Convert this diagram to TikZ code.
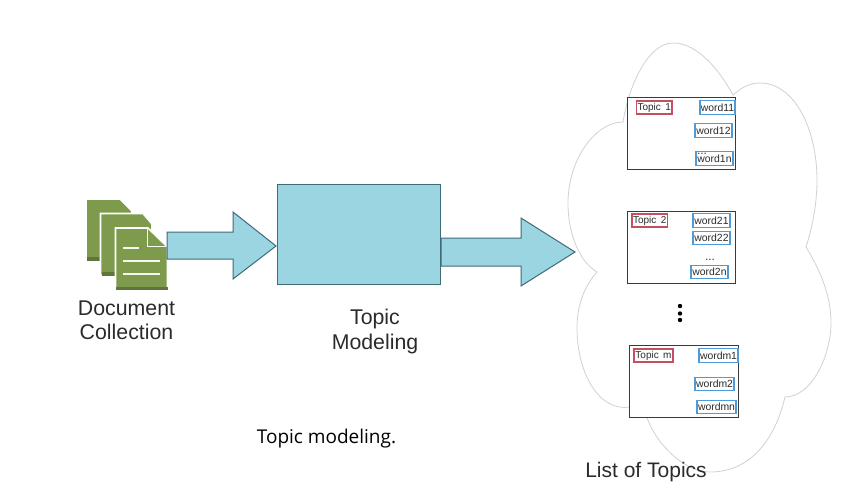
\documentclass[tikz,border=0pt]{standalone}
\usepackage{fontspec}
\setmainfont{Liberation Sans}
\newfontfamily\capfont{Open Sans}
\definecolor{cyanfill}{HTML}{9BD5E2}
\definecolor{cyanline}{HTML}{3F6B78}
\definecolor{docgreen}{HTML}{7E9A4C}
\definecolor{docdark}{HTML}{5F7539}
\definecolor{txtgray}{HTML}{2B2B2B}
\definecolor{cloudline}{HTML}{CFD2D3}
\definecolor{redbox}{HTML}{C4505F}
\definecolor{bluebox}{HTML}{4F9AD8}
\definecolor{boxline}{HTML}{3A3A3A}
\tikzset{
  block/.style={fill=cyanfill,draw=cyanline,line width=1pt,line join=miter},
  doc/.style={fill=docgreen,draw=white,line width=1.6pt},
  band/.style={fill=docdark,draw=none},
  docline/.style={draw=white!92!docgreen,line width=1.5pt},
  biglabel/.style={font=\fontsize{21.3}{25}\selectfont,text=txtgray,align=center,inner sep=0pt},
  card/.style={draw=boxline,fill=white,line width=1pt,inner sep=0pt},
  topicbox/.style={draw=redbox,line width=1.1pt,inner sep=0pt,minimum height=13pt,text=txtgray,font=\fontsize{10}{12}\selectfont},
  wordbox/.style={draw=bluebox,line width=1.1pt,inner sep=0pt,minimum height=13.5pt,text=txtgray,font=\fontsize{10.4}{12}\selectfont},
  dotdot/.style={fill=black,draw=none,circle,minimum size=4.4pt,inner sep=0pt}
}
\begin{document}
\begin{tikzpicture}[x=1pt,y=-1pt]
\useasboundingbox (0,0) rectangle (844,485);
\fill[white] (0,0) rectangle (844,485);
% cloud
\draw[cloudline,line width=0.8pt,line join=miter]
 (623,122) .. controls (630,80) and (650,43) .. (673,43)
 .. controls (700,43) and (722,75) .. (733,95)
 .. controls (742,87) and (750,83) .. (760,83)
 .. controls (795,83) and (817,130) .. (817,180)
 .. controls (817,205) and (812,228) .. (806,247)
 .. controls (820,270) and (831,295) .. (831,323)
 .. controls (831,355) and (812,397) .. (785,397)
 .. controls (775,440) and (750,472) .. (710,472)
 .. controls (685,472) and (655,445) .. (645,412);
\draw[cloudline,line width=0.8pt]
 (630,407) .. controls (600,412) and (577,375) .. (577,327)
 .. controls (577,305) and (585,285) .. (597,272)
 .. controls (580,262) and (568,235) .. (568,203)
 .. controls (568,160) and (595,122) .. (623,122);
% documents
\path[doc] (86,199) -- (120,199) -- (132,211) -- (132,260) -- (86,260) -- cycle;
\fill[band] (87,257) rectangle (101,261);
\path[doc] (100.5,213.5) -- (143,213.5) -- (152,224) -- (152,275.5) -- (100.5,275.5) -- cycle;
\fill[band] (101.5,271.5) rectangle (116,275.5);
\path[doc] (115.5,228) -- (148,228) -- (167.5,247) -- (167.5,290) -- (115.5,290) -- cycle;
\fill[band] (116,287) rectangle (167.5,290);
\draw[docline] (147.5,228) -- (147.5,246.5) -- (167.5,246.5);
\draw[docline] (123,248) -- (139,248);
\draw[docline] (123,261) -- (160,261);
\draw[docline] (123,274) -- (160,274);
% arrows and block
\draw[block] (167,232) -- (233,232) -- (233,212) -- (276,246) -- (233,279) -- (233,259) -- (167,259) -- cycle;
\node[block,minimum width=163pt,minimum height=100pt,inner sep=0pt] (engine) at (358.5,234) {};
\draw[block] (441,238) -- (521,238) -- (521,218) -- (575,252) -- (521,286) -- (521,266) -- (441,266) -- cycle;
% labels
\node[biglabel] (doclabel) at (126.5,320.5) {Document\\[-0.5pt]Collection};
\node[biglabel] (toplabel) at (375,331.5) {Topic\\[0pt]Modeling};
\node[biglabel,font=\fontsize{21}{25}\selectfont] (listlabel) at (646,472) {List of Topics};
\node[inner sep=0pt,font=\capfont\fontsize{19}{22}\selectfont,text=black] (caption) at (326.5,438.5) {Topic modeling.};
% card 1
\node[card,minimum width=108pt,minimum height=72pt] (c1) at (681,133) {};
\node[topicbox,minimum width=35.5pt] (t1) at (654.2,107.5) {Topic\, 1};
\node[wordbox,minimum width=35pt] (w11) at (717.5,107.5) {word11};
\node[wordbox,minimum width=37pt] (w12) at (713.5,130.5) {word12};
\node[wordbox,minimum width=37pt] (w1n) at (714.5,158.5) {word1n};
\node[inner sep=0pt,text=boxline,font=\fontsize{12}{12}\selectfont] (d1) at (702,154) {...};
% card 2
\node[card,minimum width=108pt,minimum height=72pt] (c2) at (681,247) {};
\node[topicbox,minimum width=35.5pt] (t2) at (649.7,220.5) {Topic\, 2};
\node[wordbox,minimum width=37pt] (w21) at (711.5,220.5) {word21};
\node[wordbox,minimum width=37pt] (w22) at (711.5,238) {word22};
\node[wordbox,minimum width=37pt] (w2n) at (709.5,272) {word2n};
\node[inner sep=0pt,text=boxline,font=\fontsize{12}{12}\selectfont] (d2) at (710,260) {...};
% card m
\node[card,minimum width=109pt,minimum height=72pt] (c3) at (683.5,381) {};
\node[topicbox,minimum width=39pt] (t3) at (653.5,355.5) {Topic\, m};
\node[wordbox,minimum width=39pt] (w31) at (718.5,355.5) {wordm1};
\node[wordbox,minimum width=39pt] (w32) at (714.5,384) {wordm2};
\node[wordbox,minimum width=39pt] (w3n) at (716.5,407) {wordmn};
% vertical ellipsis
\node[dotdot] (v1) at (680,306) {};
\node[dotdot] (v2) at (680,313.5) {};
\node[dotdot] (v3) at (680,320) {};
\end{tikzpicture}
\end{document}
